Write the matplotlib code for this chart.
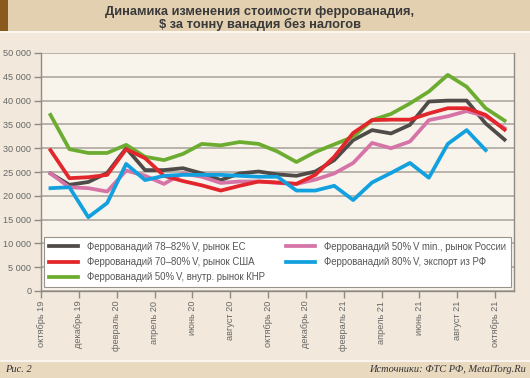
import matplotlib
matplotlib.use("Agg")
import matplotlib.pyplot as plt
from matplotlib.patches import Rectangle
import numpy as np

plt.rcParams['font.family'] = ['Liberation Sans', 'DejaVu Sans']

months = ['окт 19', 'ноя 19', 'дек 19', 'янв 20', 'фев 20', 'мар 20', 'апр 20', 'май 20',
          'июн 20', 'июл 20', 'авг 20', 'сен 20', 'окт 20', 'ноя 20', 'дек 20', 'янв 21',
          'фев 21', 'мар 21', 'апр 21', 'май 21', 'июн 21', 'июл 21', 'авг 21', 'сен 21', 'окт 21']
tick_labels = ['октябрь 19', 'декабрь 19', 'февраль 20', 'апрель 20', 'июнь 20', 'август 20',
               'октябрь 20', 'декабрь 20', 'февраль 21', 'апрель 21', 'июнь 21', 'август 21',
               'октябрь 21']

eu = [24700, 22300, 22900, 24800, 30000, 25400, 25400, 25800, 24700, 23300, 24700, 25100, 24500,
      24200, 25100, 27500, 31700, 33800, 33100, 34900, 39800, 40000, 40000, 35200, 31800]
usa = [29600, 23700, 23900, 24400, 29800, 27900, 24200, 23100, 22200, 21100, 22100, 23000, 22800,
       22500, 24400, 28200, 33200, 35900, 36000, 36000, 37300, 38400, 38400, 37000, 33900]
china = [37000, 29800, 29000, 29000, 30700, 28200, 27500, 28800, 30900, 30600, 31300, 30900, 29300,
         27100, 29200, 30800, 32400, 35900, 37200, 39400, 41900, 45400, 42900, 38400, 35800]
russia = [24700, 21800, 21600, 20900, 25300, 24200, 22500, 24700, 24000, 22700, 23000, 23000, 22700,
          22500, 23400, 24700, 26900, 31100, 30000, 31400, 35900, 36700, 37800, 36700, 34200]
export_rf = [21600, 21800, 15500, 18500, 26700, 23300, 24200, 24400, 24400, 24400, 24200, 24000, 24000,
             21100, 21100, 22100, 19100, 22800, 24800, 26900, 23800, 30900, 33800, 29600, np.nan]

W, H = 530, 378
fig = plt.figure(figsize=(W / 100, H / 100), dpi=100)
fig.patch.set_facecolor('#f2e9dc')

# title band
fig.add_artist(Rectangle((0, 1 - 31 / H), 1, 31 / H, transform=fig.transFigure,
                         facecolor='#e3d0b0', edgecolor='none'))
fig.add_artist(Rectangle((0, 1 - 31 / H), 8 / W, 31 / H, transform=fig.transFigure,
                         facecolor='#8a5a1c', edgecolor='none'))
fig.add_artist(Rectangle((0, 1 - 33 / H), 1, 2 / H, transform=fig.transFigure,
                         facecolor='#faf6ef', edgecolor='none'))
fig.text(0.49, 1 - 12 / H, 'Динамика изменения стоимости феррованадия,', ha='center', va='center',
         fontsize=9.3, fontweight='bold', color='#3a3a3a')
fig.text(0.49, 1 - 24 / H, '$ за тонну ванадия без налогов', ha='center', va='center',
         fontsize=9.3, fontweight='bold', color='#3a3a3a')

# footer band
fig.add_artist(Rectangle((0, 0), 1, 16 / H, transform=fig.transFigure,
                         facecolor='#e8d9bf', edgecolor='none'))
fig.add_artist(Rectangle((0, 16 / H), 1, 2 / H, transform=fig.transFigure,
                         facecolor='#faf6ef', edgecolor='none'))
fig.text(5 / W, 8 / H, 'Рис. 2', ha='left', va='center', fontsize=7.5, style='italic',
         family='Liberation Serif', color='#333333')
fig.text(1 - 4 / W, 8 / H, 'Источники: ФТС РФ, MetalTorg.Ru', ha='right', va='center',
         fontsize=7.5, style='italic', family='Liberation Serif', color='#333333')

ax = fig.add_axes([41 / W, (H - 291) / H, 473 / W, 238 / H])
ax.set_facecolor('#f8f4eb')

x = np.arange(len(months)) + 0.5
ax.plot(x, eu, color='#4f4b48', lw=2.7, label='Феррованадий 78–82%\u2009V, рынок ЕС', zorder=3)
ax.plot(x, usa, color='#e2262b', lw=2.7, label='Феррованадий 70–80%\u2009V, рынок США', zorder=4)
ax.plot(x, china, color='#6cac30', lw=2.7, label='Феррованадий 50%\u2009V, внутр. рынок КНР', zorder=3)
ax.plot(x, russia, color='#d674a8', lw=2.7, label='Феррованадий 50%\u2009V min., рынок России', zorder=3)
ax.plot(x, export_rf, color='#12a0df', lw=2.7, label='Феррованадий 80%\u2009V, экспорт из РФ', zorder=5)

ax.set_xlim(0, 25)
ax.set_ylim(0, 50000)
ax.set_yticks(np.arange(0, 50001, 5000))
ax.set_yticklabels([f'{v:,}'.replace(',', ' ') for v in range(0, 50001, 5000)])
ax.set_xticks(np.arange(0, 25, 2))
ax.set_xticklabels(tick_labels, rotation=90)
ax.yaxis.grid(True, color='#a9a199', lw=1.1)
ax.set_axisbelow(True)
ax.spines['top'].set_visible(False)
for s in ['left', 'bottom', 'right']:
    ax.spines[s].set_color('#8f8a84')
    ax.spines[s].set_linewidth(1.0)
ax.tick_params(axis='both', colors='#8f8a84', length=5, width=1.0, labelsize=6.6,
               labelcolor='#666666', pad=2)

leg = ax.legend(loc='lower left', bbox_to_anchor=(3 / 473, 4 / 238, 467 / 473, 51 / 238),
                mode='expand', ncol=2, fontsize=6.9, frameon=True, fancybox=False,
                handlelength=3.0, handletextpad=1.0, borderaxespad=0, labelspacing=0.55,
                borderpad=0.5)
leg.get_frame().set_facecolor('white')
leg.get_frame().set_edgecolor('#9a948d')
leg.get_frame().set_alpha(1)
leg.get_frame().set_linewidth(0.8)
for t in leg.get_texts():
    t.set_color('#555555')
leg.set_zorder(10)

fig.savefig('out.png', dpi=100, facecolor=fig.get_facecolor())
